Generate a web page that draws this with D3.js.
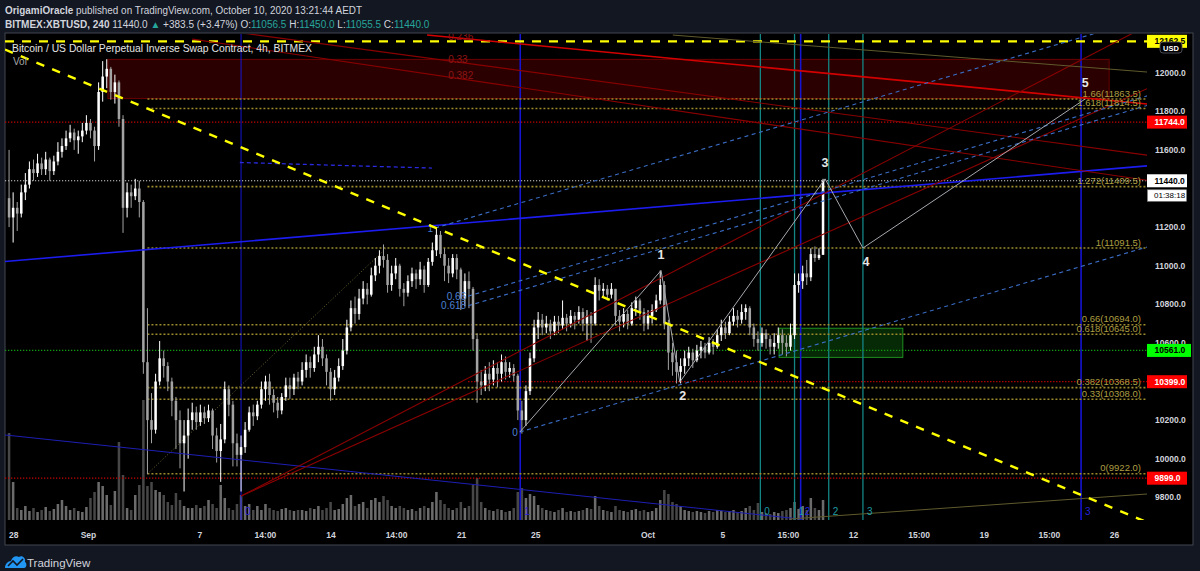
<!DOCTYPE html>
<html><head><meta charset="utf-8">
<script src="https://cdn.jsdelivr.net/npm/d3@7"></script>
<style>
html,body{margin:0;padding:0;background:#131722;overflow:hidden;}
svg{display:block;font-family:"Liberation Sans",Arial,sans-serif;}
</style></head><body>
<svg id="chart" width="1200" height="571"></svg>
<script>
// ---------------- DATA ----------------
const firstOpen = 11350;
const closes = [
11250,11300,11270,11380,11420,11500,11480,11530,11500,11550,
11490,11540,11590,11620,11660,11690,11650,11670,11700,11740,
11700,11620,11900,11980,12020,11900,11950,11760,11300,11380,
11360,11400,11330,10500,10200,10150,10400,10520,10480,10400,
10300,10200,10080,10120,10200,10240,10190,10240,10210,10250,
10120,10040,10100,10360,10280,10080,10020,10060,10150,10240,
10220,10280,10360,10400,10330,10290,10250,10320,10380,10360,
10420,10400,10460,10500,10470,10540,10580,10520,10450,10360,
10420,10480,10560,10680,10780,10750,10830,10880,10850,10950,
11000,11050,11030,10900,10960,11000,10880,10860,10920,10960,
10930,10980,10900,11020,11080,11160,11060,11000,10960,11040,
10980,10830,10920,10880,10620,10400,10380,10440,10410,10470,
10440,10500,10450,10470,10430,10250,10200,10350,10520,10680,
10720,10680,10700,10660,10710,10690,10730,10700,10740,10720,
10760,10700,10740,10700,10900,10870,10880,10850,10880,10740,
10710,10750,10700,10780,10820,10760,10700,10740,10770,10820,
10900,10700,10550,10500,10450,10480,10520,10550,10510,10560,
10580,10550,10600,10580,10640,10680,10650,10710,10740,10720,
10760,10780,10680,10620,10600,10650,10620,10580,10600,10640,
10600,10580,10640,10900,10920,10960,10940,11060,11040,11056.5,
11440];
const highs = [
11600,11380,11330,11420,11480,11540,11550,11580,11560,11590,
11560,11570,11640,11660,11700,11730,11710,11700,11740,11780,
11760,11720,11950,12060,12070,12030,11990,11960,11780,11430,
11420,11450,11440,11340,10780,10340,10440,10610,10560,10500,
10420,10320,10250,10200,10260,10290,10270,10280,10270,10280,
10260,10160,10180,10400,10380,10300,10130,10120,10190,10270,
10280,10300,10400,10430,10440,10360,10320,10340,10420,10420,
10440,10450,10500,10540,10530,10580,10640,10620,10540,10470,
10460,10520,10620,10720,10820,10840,10880,10920,10910,10990,
11040,11080,11110,11060,11000,11040,11010,10910,10950,10990,
10980,11020,11000,11040,11120,11195,11180,11090,11040,11060,
11060,10990,10960,10970,10890,10650,10460,10480,10500,10510,
10500,10540,10530,10500,10490,10440,10300,10380,10550,10720,
10760,10750,10740,10720,10740,10740,10820,10750,10770,10760,
10790,10780,10770,10760,10940,10930,10910,10900,10910,10880,
10770,10780,10770,10810,10840,10830,10780,10770,10800,10850,
10975,10920,10720,10600,10560,10520,10560,10580,10570,10590,
10610,10600,10630,10620,10670,10720,10710,10740,10780,10770,
10800,10800,10790,10700,10660,10680,10670,10640,10650,10680,
10670,10640,10700,10960,10960,11000,11030,11090,11100,11090,
11450];
const lows = [
11200,11120,11180,11250,11340,11400,11440,11460,11470,11470,
11440,11470,11520,11560,11600,11640,11600,11580,11640,11680,
11660,11540,11600,11850,11920,11860,11840,11720,11170,11250,
11300,11340,11250,10440,9920,10080,10130,10380,10420,10350,
10220,10050,9950,9830,10000,10150,10150,10170,10180,10190,
10050,9980,9880,10080,10220,9960,9960,9830,10030,10140,
10170,10200,10260,10300,10280,10240,10210,10230,10300,10310,
10330,10360,10380,10420,10420,10450,10500,10480,10380,10300,
10330,10400,10460,10540,10660,10700,10720,10800,10800,10840,
10920,10960,10990,10860,10870,10930,10840,10790,10840,10890,
10880,10900,10860,10890,11000,11050,11040,10920,10910,10940,
10930,10770,10790,10780,10560,10290,10330,10350,10350,10380,
10370,10400,10410,10420,10400,10200,10130,10170,10330,10500,
10620,10640,10650,10620,10640,10650,10670,10660,10680,10670,
10700,10660,10610,10600,10690,10820,10840,10820,10830,10690,
10660,10680,10670,10690,10740,10720,10660,10670,10700,10760,
10800,10670,10460,10430,10390,10390,10440,10480,10470,10500,
10520,10520,10540,10540,10570,10610,10620,10640,10690,10680,
10700,10720,10640,10580,10560,10580,10570,10540,10540,10570,
10540,10530,10560,10620,10860,10880,10900,10920,11020,11030,
11055.5];
const volumes = [
87,38,12,10,14,9,12,8,10,13,
9,11,16,20,14,10,12,9,8,13,
22,28,38,34,25,15,29,78,45,12,
10,25,35,120,34,38,30,28,25,18,
15,27,20,14,12,12,15,12,14,20,
16,12,35,22,12,10,16,25,14,16,
10,14,10,16,12,10,9,11,12,10,
9,10,10,9,12,11,14,10,12,18,
10,11,16,22,25,14,16,18,12,20,
22,18,24,20,14,12,14,12,10,11,
9,12,14,12,18,28,20,16,12,10,
12,18,12,14,35,42,18,12,10,9,
11,10,8,9,12,28,32,22,26,24,
15,12,10,9,8,10,12,8,9,8,
9,10,12,11,24,14,10,9,8,14,
10,9,8,10,11,9,10,8,9,12,
20,30,26,18,16,14,10,9,8,9,
8,7,9,8,10,9,8,9,10,8,
9,12,14,10,17,8,7,6,8,7,
9,10,12,18,11,14,10,22,12,10,
20];

// time axis (positions in bar-index units)
const timeTickPos    = [1.16, 19.5, 46.9, 63.0, 79.1, 95.2, 111.2, 129.4, 157.0, 175.4, 191.5, 207.5, 223.6, 239.6, 255.6, 271.6];
const timeTickLabels = ["28","Sep","7","14:00","14","14:00","21","25","Oct","5","15:00","12","15:00","19","15:00","26"];
// price axis
const priceTicks = [9800,10000,10200,10400,10600,10800,11000,11200,11400,11600,11800,12000];

// horizontal price lines
const hLinePrices = [12162.5, 11744, 11440, 10561, 10399, 9899];
const hLineStart  = [-1, -1, -1, -1, 112.8, -1];
const hLineKind   = ["yellow","red","white","green","red","red"];
const countdownText = "01:38:18";

// fibonacci retracement / extension
const fibLevels = [0, 0.33, 0.382, 0.618, 0.66, 1, 1.272, 1.618, 1.66];
const fibPrices = [9922.0, 10308.0, 10368.5, 10645.0, 10694.0, 11091.5, 11409.5, 11814.5, 11863.5];
const fibStart = 34.0;
const fibTrend = [[34.0, 9922], [92.7, 11091.5]];

// fib channel (blue dashed)
const chanLevels = [0, 0.618, 0.66, 1];
const chanStartIdx = [125.5, 112.8, 112.8, 104.7];
const chanAnchor = [125.5, 10138.3];
const chanSlope = 6.22;      // price per bar
const chanWidth = 1186.4;    // price distance of level 1

// red fan (falling) with labels
const redFanLabels = ["0.236", "0.33", "0.382"];
const redFan = [
  [[102.7, 12195.3], [279.6, 11838]],
  [[40, 12254.7], [279.6, 11572.8]],
  [[45, 12174], [279.6, 11442.4]]
];
// red fan (rising) from the Sep 8 low
const redRise = [
  [[57.0, 9806.7], [279.6, 12243]],
  [[57.0, 9806.7], [279.6, 11917]]
];
// blue trend lines
const blueLines = [
  [[-1, 11022], [279.6, 11517]],
  [[-1, 10123], [195, 9686]]
];
const blueDashShort = [[56.7, 11534.7], [103.9, 11506]];
// olive thin lines
const oliveLines = [
  [[191.9, 9687.7], [279.6, 9817.1]],
  [[163.1, 12195], [279.6, 12003.5]]
];
// cycle lines
const blueCycles = [57.0, 125.6, 194.5, 263.4];
const tealCycles = [184.6, 193.0, 201.4, 209.8];
const cycleLabels = ["0","1","2","3"];
// Elliott wave
const waveIdx    = [125.5, 160.2, 164.8, 200.5, 209.8, 264.4];
const wavePrice  = [10138, 10975, 10397, 11450, 11091.5, 11863.5];
const waveLabels = ["", "1", "2", "3", "4", "5"];
// zones
const redZone   = {i0: 24.3, i1: 270.3, p0: 11866, p1: 12069};
const greenZone = {i0: 189.2, i1: 219.6, p0: 10525, p1: 10676};

// ---------------- CHART ----------------
if (![highs.length, lows.length, volumes.length].every(n => n === closes.length)) throw new Error("length mismatch " + [closes.length, highs.length, lows.length, volumes.length]);

const W = 1200, H = 571;
const plotL = 5, plotR = 1147, plotT = 34, plotB = 520;
const svg = d3.select('#chart');
const x = d3.scaleLinear().domain([-1, 279.6]).range([plotL, plotR]);
const y = d3.scaleLinear().domain([9682.4, 12200.5]).range([plotB, plotT]);
const vScale = d3.scaleLinear().domain([0, d3.max(volumes)]).range([0, 120]);

svg.append('rect').attr('width', W).attr('height', H).attr('fill', '#131722');
svg.append('rect').attr('x', 5).attr('y', 33).attr('width', 1188).attr('height', 512)
  .attr('fill', '#000').attr('stroke', '#434651').attr('stroke-width', 1);

const defs = svg.append('defs');
defs.append('clipPath').attr('id', 'pc').append('rect')
  .attr('x', plotL).attr('y', plotT).attr('width', plotR - plotL).attr('height', plotB - plotT);
const g = svg.append('g').attr('clip-path', 'url(#pc)');

function line(p, q, stroke, width, dash) {
  const l = g.append('line')
    .attr('x1', x(p[0])).attr('y1', y(p[1])).attr('x2', x(q[0])).attr('y2', y(q[1]))
    .attr('stroke', stroke).attr('stroke-width', width);
  if (dash) l.attr('stroke-dasharray', dash);
  return l;
}

// zones
g.append('rect').attr('x', x(redZone.i0)).attr('y', y(redZone.p1))
  .attr('width', x(redZone.i1) - x(redZone.i0)).attr('height', y(redZone.p0) - y(redZone.p1))
  .attr('fill', '#2a0000').attr('stroke', '#6a0000').attr('stroke-width', 1);
g.append('rect').attr('x', x(greenZone.i0)).attr('y', y(greenZone.p1))
  .attr('width', x(greenZone.i1) - x(greenZone.i0)).attr('height', y(greenZone.p0) - y(greenZone.p1))
  .attr('fill', '#062a06').attr('stroke', '#1f8f1f').attr('stroke-width', 1);

// volume
const step = x(1) - x(0);
const bw = step * 0.62;
const candles = closes.map((c, i) => {
  const o = i ? closes[i - 1] : firstOpen;
  return {i, o, c, h: Math.max(highs[i], o, c), l: Math.min(lows[i], o, c), v: volumes[i]};
});
g.selectAll('rect.vol').data(candles).enter().append('rect').attr('class', 'vol')
  .attr('x', d => x(d.i) - bw / 2).attr('width', bw)
  .attr('y', d => plotB - vScale(d.v)).attr('height', d => vScale(d.v))
  .attr('fill', d => d.c >= d.o ? '#6b6b6b' : '#474747');

// cycle lines
blueCycles.forEach((c, k) => line([c, 13000], [c, 9000], '#1414d2', k === 0 ? 1 : 1.6));
tealCycles.forEach(c => line([c, 13000], [c, 9000], '#148585', 1.3));

// horizontal lines
const hStyle = {
  yellow: {s: '#ffff00', w: 2.4, d: '9,8'},
  red:    {s: '#c40000', w: 1.2, d: '1.3,1.7'},
  white:  {s: '#cfcfcf', w: 1.1, d: '1.2,1.8'},
  green:  {s: '#119b11', w: 1.2, d: '1.3,1.7'}
};
hLinePrices.forEach((p, k) => {
  const st = hStyle[hLineKind[k]];
  line([hLineStart[k], p], [279.6, p], st.s, st.w, st.d);
});

// fib levels
fibPrices.forEach(p => line([fibStart, p], [279.6, p], '#9a8a2c', 1.6, '2,2'));
line(fibTrend[0], fibTrend[1], '#6d6530', 1, '1,2');

// candles
const cg = g.append('g');
cg.selectAll('line.wick').data(candles).enter().append('line')
  .attr('x1', d => x(d.i)).attr('x2', d => x(d.i))
  .attr('y1', d => y(d.h)).attr('y2', d => y(d.l))
  .attr('stroke', d => d.c >= d.o ? '#ffffff' : '#a3a3a3').attr('stroke-width', 1);
cg.selectAll('rect.body').data(candles).enter().append('rect')
  .attr('x', d => x(d.i) - bw / 2).attr('width', bw)
  .attr('y', d => y(Math.max(d.o, d.c)))
  .attr('height', d => Math.max(1, Math.abs(y(d.o) - y(d.c))))
  .attr('fill', d => d.c >= d.o ? '#ffffff' : '#a3a3a3');

// blue solid trend lines
line(blueLines[0][0], blueLines[0][1], '#1c1cf0', 1.6);
line(blueLines[1][0], blueLines[1][1], '#1e1eb4', 1);
line(blueDashShort[0], blueDashShort[1], '#2a2ae0', 1.3, '4,3');

// red fans
redFan.forEach((s, k) => line(s[0], s[1], k === 0 ? '#d40000' : '#8a0000', k === 0 ? 1.6 : 1.1));
redRise.forEach(s => line(s[0], s[1], '#8a0000', 1.1));
oliveLines.forEach(s => line(s[0], s[1], '#5f5a2c', 1));

// fib channel
const chanP = (i, lvl) => chanAnchor[1] + (i - chanAnchor[0]) * chanSlope + lvl * chanWidth;
chanLevels.forEach((lvl, k) => {
  const i0 = chanStartIdx[k];
  line([i0, chanP(i0, lvl)], [279.6, chanP(279.6, lvl)], '#3a6cc4', 1.1, '4,3.5');
  g.append('text').attr('x', x(i0) - 2).attr('y', y(chanP(i0, lvl)) + 3.5)
    .attr('text-anchor', 'end').attr('font-size', 10).attr('fill', '#4d80d4').text(String(lvl));
});

// elliott wave path
const wavePts = waveIdx.map((v, k) => [x(v), y(wavePrice[k])]);
g.append('path').attr('d', d3.line()(wavePts)).attr('fill', 'none')
  .attr('stroke', '#a6a8ae').attr('stroke-width', 1);

// yellow dashed diagonal
line([-1, 12120], [280, 9667], '#ffff00', 2.4, '8.5,8.5');

// red fan labels
const fanLabelIdx = 107.9;
redFan.forEach((s, k) => {
  const t = (fanLabelIdx - s[0][0]) / (s[1][0] - s[0][0]);
  const p = s[0][1] + t * (s[1][1] - s[0][1]);
  g.append('text').attr('x', x(fanLabelIdx)).attr('y', y(p) + 2.5)
    .attr('font-size', 10).attr('fill', '#8e1515').text(redFanLabels[k]);
});

// fib labels
fibLevels.forEach((lvl, k) => {
  g.append('text').attr('x', 1141).attr('y', y(fibPrices[k]) - 2.5)
    .attr('text-anchor', 'end').attr('font-size', 9.5).attr('fill', '#ad9e40')
    .text(String(lvl) + '(' + fibPrices[k].toFixed(1) + ')');
});

// wave labels
waveLabels.forEach((lb, k) => {
  if (!lb) return;
  const up = k % 2 === 1;
  g.append('text').attr('x', x(waveIdx[k]) + (up ? 0 : 3)).attr('y', y(wavePrice[k]) + (up ? -12 : 18))
    .attr('text-anchor', 'middle').attr('font-size', 12.5).attr('font-weight', 'bold')
    .attr('fill', '#e6e6e6').text(lb);
});

// cycle labels
blueCycles.forEach((c, k) => g.append('text').attr('x', x(c) + 4).attr('y', 515)
  .attr('font-size', 10).attr('fill', '#2323d8').text(cycleLabels[k]));
tealCycles.forEach((c, k) => g.append('text').attr('x', x(c) + 4).attr('y', 515)
  .attr('font-size', 10).attr('fill', '#1d9aa4').text(cycleLabels[k]));

// chart title
svg.append('text').attr('x', 12).attr('y', 52).attr('font-size', 10.5).attr('fill', '#e4e4e4')
  .attr('textLength', 300).attr('lengthAdjust', 'spacingAndGlyphs')
  .text('Bitcoin / US Dollar Perpetual Inverse Swap Contract, 4h, BITMEX');
svg.append('text').attr('x', 13).attr('y', 65).attr('font-size', 10).attr('fill', '#a8a8a8').text('Vol');

// price tags geometry (used to hide axis labels that the tags cover)
const lastY = y(closes[closes.length - 1]);
const coveredY = hLinePrices.map(p => y(p)).concat([lastY + 14.5]);

// price axis
svg.selectAll('text.pt').data(priceTicks.filter(p => coveredY.every(cy => Math.abs(cy - y(p)) >= 7)))
  .enter().append('text').attr('class', 'pt')
  .attr('x', 1155).attr('y', d => y(d) + 3).attr('font-size', 8.5).attr('font-weight', 'bold')
  .attr('fill', '#d1d4dc').text(d => d.toFixed(1));

// time axis
svg.selectAll('text.tt').data(timeTickPos).enter().append('text').attr('class', 'tt')
  .attr('x', d => x(d)).attr('y', 538).attr('text-anchor', 'middle')
  .attr('font-size', 8.5).attr('font-weight', 'bold').attr('fill', '#d1d4dc')
  .text((d, k) => timeTickLabels[k]);

// price tags
const tagStyle = [
  {bg: '#ffff00', fg: '#000', w: 40},
  {bg: '#ff0000', fg: '#fff', w: 40},
  {bg: '#ffffff', fg: '#000', w: 40},
  {bg: '#00ff00', fg: '#000', w: 44},
  {bg: '#ff0000', fg: '#fff', w: 40},
  {bg: '#ff0000', fg: '#fff', w: 40}
];
hLinePrices.forEach((p, k) => {
  const yy = y(p), st = tagStyle[k];
  svg.append('rect').attr('x', 1147).attr('y', yy - 6.5).attr('width', st.w).attr('height', 13).attr('fill', st.bg);
  svg.append('text').attr('x', 1154.5).attr('y', yy + 3).attr('font-size', 8.5).attr('font-weight', 'bold')
    .attr('fill', st.fg).text(p.toFixed(1));
});
// countdown under last price
svg.append('rect').attr('x', 1147.5).attr('y', lastY + 9).attr('width', 39).attr('height', 11.5)
  .attr('fill', '#ffffff').attr('stroke', '#888').attr('stroke-width', 0.6);
svg.append('text').attr('x', 1154).attr('y', lastY + 17.5).attr('font-size', 8).attr('fill', '#000').text(countdownText);

// USD button
svg.append('rect').attr('x', 1160).attr('y', 42).attr('width', 22).attr('height', 11).attr('rx', 3)
  .attr('fill', '#000').attr('stroke', '#5a5e6a').attr('stroke-width', 0.8);
svg.append('text').attr('x', 1171).attr('y', 50.5).attr('text-anchor', 'middle').attr('font-size', 7.5)
  .attr('font-weight', 'bold').attr('fill', '#fff').text('USD');

// header
const h1 = svg.append('text').attr('x', 5).attr('y', 14).attr('font-size', 10.5).attr('fill', '#d1d4dc')
  .attr('textLength', 357).attr('lengthAdjust', 'spacingAndGlyphs');
h1.append('tspan').attr('font-weight', 'bold').text('OrigamiOracle');
h1.append('tspan').text(' published on TradingView.com, October 10, 2020 13:21:44 AEDT');

const h2 = svg.append('text').attr('x', 5).attr('y', 28).attr('font-size', 10).attr('fill', '#d1d4dc');
const teal = '#26a69a';
[['BITMEX:XBTUSD, 240', null, 'bold'], [' 11440.0 ', null], ['▲', teal], [' +383.5 (+3.47%) ', null],
 ['O:', null], ['11056.5', teal], [' H:', null], ['11450.0', teal], [' L:', null], ['11055.5', teal],
 [' C:', null], ['11440.0', teal]].forEach(s => {
  const t = h2.append('tspan').text(s[0]);
  if (s[1]) t.attr('fill', s[1]);
  if (s[2]) t.attr('font-weight', s[2]);
});

// footer logo
const logo = svg.append('g').attr('transform', 'translate(5,555)');
logo.append('path').attr('d', 'M0,13 C0,9 3,6 6,6 C7,2 11,0 14,2 C17,0 21,3 20,7 C22,8 22,13 19,13 Z').attr('fill', '#2196f3');
logo.append('path').attr('d', 'M3,11 L8,6 L12,10 L18,4').attr('fill', 'none').attr('stroke', '#131722').attr('stroke-width', 1.6);
svg.append('text').attr('x', 27).attr('y', 567).attr('font-size', 11.5).attr('fill', '#d1d4dc').text('TradingView');
</script>
</body></html>
